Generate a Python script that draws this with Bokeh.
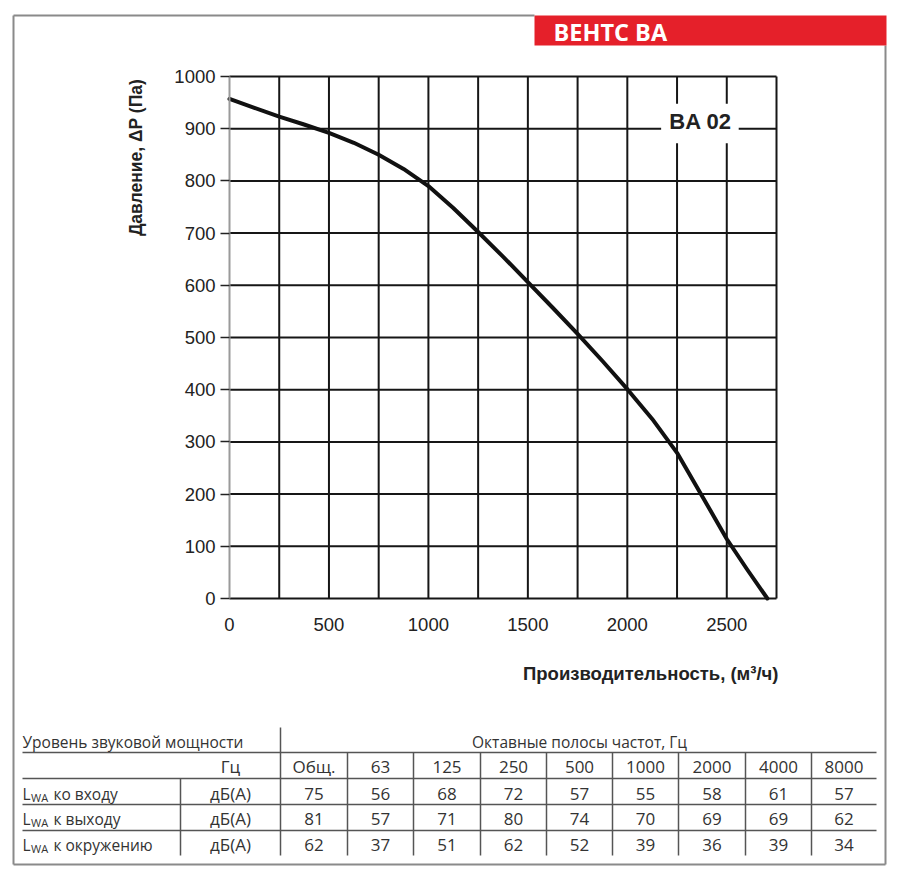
import math
from bokeh.plotting import figure
from bokeh.models import Range1d, LinearAxis, FixedTicker
from bokeh.core.properties import value
from bokeh.embed import file_html
from bokeh.resources import INLINE

# ---------------- data ----------------
flow = [0, 125, 250, 375, 500, 625, 750, 875, 1000, 1125, 1250, 1375, 1500, 1625,
        1750, 1875, 2000, 2125, 2250, 2375, 2500, 2600, 2704]
pressure = [957, 940, 923, 908, 892, 873, 850, 823, 790, 748, 702, 655, 606, 557,
            507, 455, 401, 344, 279, 197, 114, 57, 0]
x_ticks = [0, 500, 1000, 1500, 2000, 2500]
y_ticks = [0, 100, 200, 300, 400, 500, 600, 700, 800, 900, 1000]
x_grid = [250, 500, 750, 1000, 1250, 1500, 1750, 2000, 2250, 2500, 2750]
x_max = 2750
y_max = 1000
model_name = "BA 02"
title = "ВЕНТС ВА"
x_label = "Производительность, (м³/ч)"
y_label = "Давление, ΔP (Па)"

table_title_left = "Уровень звуковой мощности"
table_title_right = "Октавные полосы частот, Гц"
unit_hz = "Гц"
unit_db = "дБ(А)"
bands = ["Общ.", "63", "125", "250", "500", "1000", "2000", "4000", "8000"]
row_labels = ["ко входу", "к выходу", "к окружению"]
inlet = [75, 56, 68, 72, 57, 55, 58, 61, 57]
outlet = [81, 57, 71, 80, 74, 70, 69, 69, 62]
surround = [62, 37, 51, 62, 52, 39, 36, 39, 34]
rows = [inlet, outlet, surround]

# ---------------- geometry ----------------
W, H = 900, 880
X0, X1 = 229, 776      # pixel columns of flow 0 and x_max
Y0, Y1 = 598, 76       # pixel rows of pressure 0 and y_max
sx = x_max / (X1 - X0)
sy = y_max / (Y0 - Y1)

p = figure(width=W, height=H,
           x_range=Range1d(-X0 * sx, (W - X0) * sx),
           y_range=Range1d(-(H - Y0) * sy, Y0 * sy),
           x_axis_type=None, y_axis_type=None,
           toolbar_location=None, output_backend="svg",
           min_border=0, min_border_left=0, min_border_right=0,
           min_border_top=0, min_border_bottom=0,
           outline_line_color=None, background_fill_color="white",
           border_fill_color="white")
p.extra_x_ranges = {"px": Range1d(0, W)}
p.extra_y_ranges = {"px": Range1d(H, 0)}
PX = dict(x_range_name="px", y_range_name="px")

TICK_FONT = "Liberation Sans"
TABLE_FONT = "Open Sans"
GRID = "#161616"

# grid lines, bounded to the chart area
p.segment(x0=x_grid, y0=[0] * len(x_grid), x1=x_grid, y1=[y_max] * len(x_grid),
          line_color=GRID, line_width=2)
p.segment(x0=[0] * len(y_ticks), y0=y_ticks, x1=[x_max] * len(y_ticks), y1=y_ticks,
          line_color=GRID, line_width=2)

# axes
yaxis = LinearAxis(fixed_location=0, ticker=FixedTicker(ticks=y_ticks), bounds=(0, y_max))
yaxis.axis_line_color = "#9a9a9a"
yaxis.axis_line_width = 2
yaxis.major_tick_line_color = "#222222"
yaxis.major_tick_line_width = 1.5
yaxis.major_tick_out = 9
yaxis.major_tick_in = 0
yaxis.minor_tick_line_color = None
yaxis.major_label_standoff = 5
yaxis.major_label_text_font = TICK_FONT
yaxis.major_label_text_font_size = "18.5px"
yaxis.major_label_text_color = "#222222"
p.add_layout(yaxis, "left")

xaxis = LinearAxis(fixed_location=0, ticker=FixedTicker(ticks=x_ticks), bounds=(0, x_max))
xaxis.axis_line_color = None
xaxis.major_tick_line_color = None
xaxis.major_tick_out = 0
xaxis.major_tick_in = 0
xaxis.minor_tick_line_color = None
xaxis.major_label_standoff = 19
xaxis.major_label_text_font = TICK_FONT
xaxis.major_label_text_font_size = "18.5px"
xaxis.major_label_text_color = "#222222"
p.add_layout(xaxis, "below")

# curve
p.line(flow, pressure, line_width=4, line_color="#111111",
       line_join="round", line_cap="round")

# model label with white backing
p.quad(left=[2170], right=[2560], bottom=[872], top=[948],
       fill_color="white", line_color=None)
p.text(x=[2368], y=[914], text=[model_name], text_font=value(TICK_FONT),
       text_font_style="bold", text_font_size="22px", text_color="#222222",
       text_align="center", text_baseline="middle")

# axis titles
p.text(x=[135], y=[157], text=[y_label], angle=math.pi / 2,
       text_font=value(TICK_FONT), text_font_style="bold", text_font_size="17.5px",
       text_color="#222222", text_align="center", text_baseline="middle", **PX)
p.text(x=[778], y=[673], text=[x_label],
       text_font=value(TICK_FONT), text_font_style="bold", text_font_size="18.5px",
       text_color="#222222", text_align="right", text_baseline="middle", **PX)

# outer frame and header
p.segment(x0=[13, 13, 13, 885], y0=[15, 15, 864, 45],
          x1=[534, 13, 885, 885], y1=[15, 864, 864, 864],
          line_color="#8a8a8a", line_width=2, **PX)
p.quad(left=[534], right=[886], top=[15], bottom=[45],
       fill_color="#e5202a", line_color=None, **PX)
p.text(x=[553], y=[31], text=[title], text_font=value(TABLE_FONT),
       text_font_style="bold", text_font_size="23.5px", text_color="white",
       text_align="left", text_baseline="middle", **PX)

# ---------------- table ----------------
col_edges = [280, 347, 413, 480, 546, 612, 678, 745, 811, 876]
col_centers = [(a + b) / 2 for a, b in zip(col_edges[:-1], col_edges[1:])]
row_y = [793, 818, 844]
LINE = "#555555"
TXT = "#333333"

p.segment(x0=[22, 22, 22, 22], y0=[752, 778, 804, 830],
          x1=[876, 876, 876, 876], y1=[752, 778, 804, 830],
          line_color=LINE, line_width=1.5, **PX)
vx = col_edges[1:-1]
p.segment(x0=vx, y0=[752] * len(vx), x1=vx, y1=[855] * len(vx),
          line_color=LINE, line_width=1.5, **PX)
p.segment(x0=[280, 180], y0=[727, 778], x1=[280, 180], y1=[855, 855],
          line_color=LINE, line_width=1.5, **PX)

tkw = dict(text_font=value(TABLE_FONT), text_font_size="15.5px", text_color=TXT,
           text_baseline="middle", **PX)
nkw = dict(tkw, text_font_size="17px")
p.text(x=[22], y=[741], text=[table_title_left], text_align="left", **tkw)
p.text(x=[579], y=[741], text=[table_title_right], text_align="center", **tkw)
p.text(x=[230], y=[766], text=[unit_hz], text_align="center", **nkw)
p.text(x=col_centers, y=[766] * len(bands), text=bands, text_align="center", **nkw)

for ry, lab, vals in zip(row_y, row_labels, rows):
    p.text(x=[22], y=[ry], text=["L"], text_align="left", **tkw)
    p.text(x=[30.5], y=[ry + 4], text=["WA"], text_align="left",
           text_font=value(TABLE_FONT), text_font_size="11px", text_color=TXT,
           text_baseline="middle", **PX)
    p.text(x=[53], y=[ry], text=[lab], text_align="left", **tkw)
    p.text(x=[230], y=[ry], text=[unit_db], text_align="center", **nkw)
    p.text(x=col_centers, y=[ry] * len(vals), text=[str(v) for v in vals],
           text_align="center", **nkw)

open("out.html", "w").write(file_html(p, INLINE))
